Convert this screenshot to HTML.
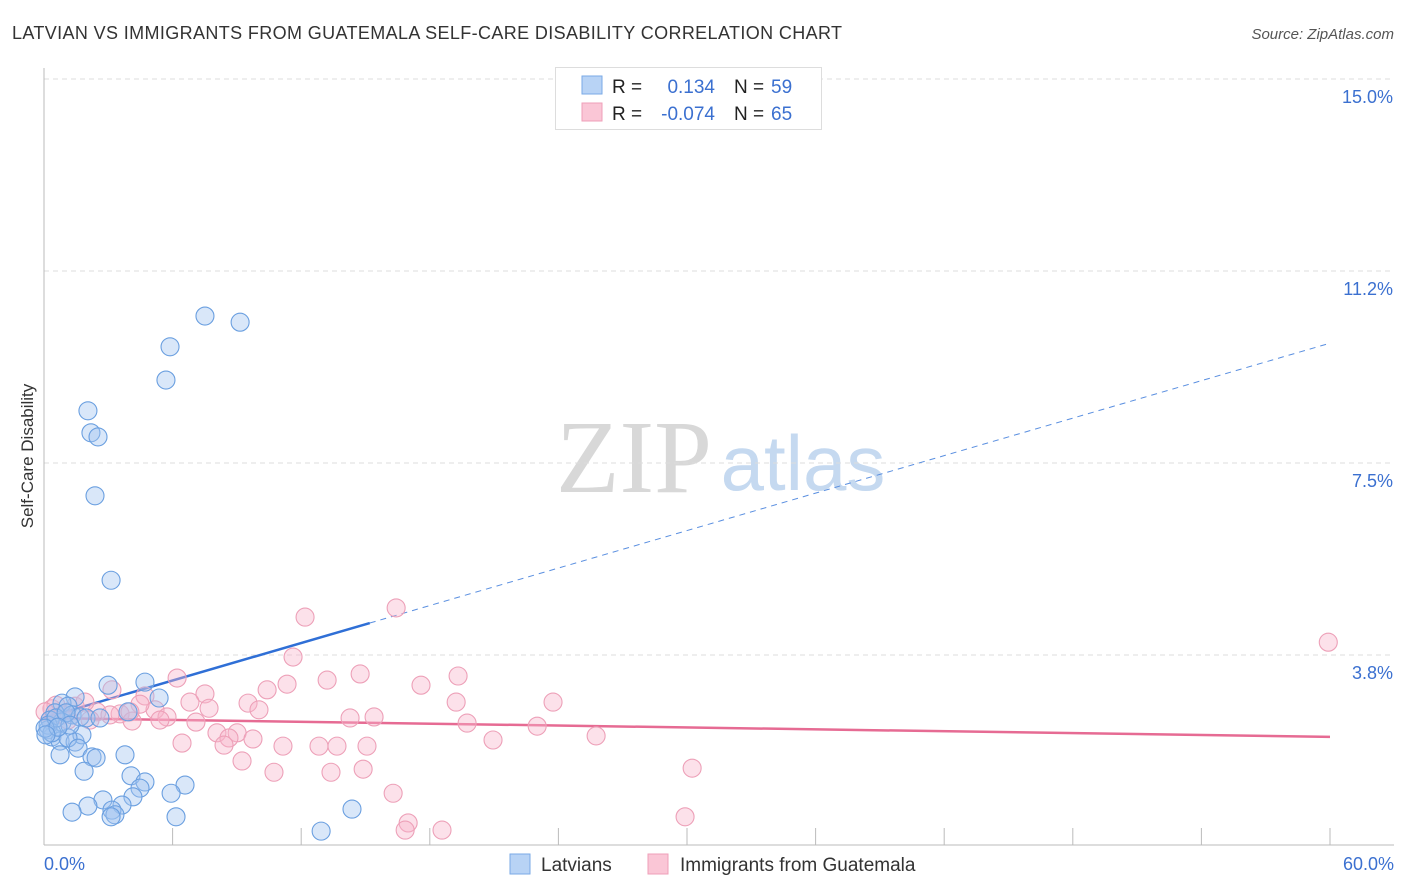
<!DOCTYPE html>
<html><head><meta charset="utf-8"><style>
body{margin:0;background:#fff;font-family:"Liberation Sans",sans-serif;}
#wrap{position:relative;width:1406px;height:892px;overflow:hidden;}
</style></head><body>
<div id="wrap">
<svg id="chart" width="1406" height="892" xmlns="http://www.w3.org/2000/svg">
<text x="12" y="39" font-size="18" fill="#333" textLength="830">LATVIAN VS IMMIGRANTS FROM GUATEMALA SELF-CARE DISABILITY CORRELATION CHART</text>
<text x="1394" y="39" font-size="15" fill="#555" font-style="italic" text-anchor="end">Source: ZipAtlas.com</text>
<text transform="translate(33,456) rotate(-90)" font-size="17" fill="#333" text-anchor="middle">Self-Care Disability</text>
<g>
<text x="634" y="492" font-size="104" font-family="Liberation Serif,serif" fill="#d8d8d8" text-anchor="middle">ZIP</text>
<text x="803" y="490" font-size="78" fill="#c5d9f0" text-anchor="middle">atlas</text>
</g>
<g id="grid"></g><g id="axes"></g><g id="trend"></g><g id="pts"></g>
<g>
<rect x="555.5" y="67.5" width="266" height="62" fill="#fff" stroke="#ddd"/>
<rect x="582" y="76" width="20" height="18" fill="#b8d3f5" stroke="#7aaae6"/>
<rect x="582" y="103" width="20" height="18" fill="#fac6d6" stroke="#ef9fb8"/>
<text x="612" y="93" font-size="19" fill="#222">R =</text>
<text x="715" y="93" font-size="19" fill="#3b70d0" text-anchor="end">0.134</text>
<text x="734" y="93" font-size="19" fill="#222">N =</text>
<text x="771" y="93" font-size="19" fill="#3b70d0">59</text>
<text x="612" y="120" font-size="19" fill="#222">R =</text>
<text x="715" y="120" font-size="19" fill="#3b70d0" text-anchor="end">-0.074</text>
<text x="734" y="120" font-size="19" fill="#222">N =</text>
<text x="771" y="120" font-size="19" fill="#3b70d0">65</text>
</g>
<g>
<rect x="510" y="854" width="20" height="20" fill="#b8d3f5" stroke="#7aaae6"/>
<text x="541" y="871" font-size="19" fill="#333">Latvians</text>
<rect x="648" y="854" width="20" height="20" fill="#fac6d6" stroke="#ef9fb8"/>
<text x="680" y="871" font-size="19" fill="#333">Immigrants from Guatemala</text>
</g>
</svg>
</div>
<script>
const yTicks=[3.75,7.5,11.25,15];
const yTickLabels=["3.8%","7.5%","11.2%","15.0%"];
const xTicks=[6,12,18,24,30,36,42,48,54,60];
const blueX=[7.51,9.15,5.88,5.69,2.05,2.19,2.52,2.38,3.13,2.99,4.71,5.37,1.45,0.84,1.12,0.51,1.31,1.68,0.84,1.96,0.28,0.19,0.37,0.75,1.45,1.77,1.12,1.59,0.75,2.24,2.43,3.78,1.87,4.06,4.71,4.48,6.58,5.93,4.15,2.75,3.64,2.05,1.31,3.17,3.31,3.13,6.16,14.37,12.93,0.19,0.37,0.56,1.03,0.05,1.21,0.65,2.61,3.92,0.09];
const blueY=[10.37,10.25,9.77,9.12,8.52,8.09,8.01,6.86,5.21,3.16,3.22,2.91,2.93,2.81,2.75,2.62,2.58,2.54,2.44,2.52,2.48,2.29,2.15,2.07,2.05,2.19,2.13,1.93,1.80,1.76,1.74,1.80,1.48,1.39,1.27,1.15,1.21,1.05,0.98,0.92,0.82,0.80,0.68,0.72,0.63,0.59,0.59,0.74,0.31,2.38,2.23,2.52,2.62,2.32,2.38,2.34,2.52,2.64,2.19];
const pinkX=[12.18,16.43,59.92,11.62,6.21,13.21,14.75,11.34,19.32,17.59,10.41,3.17,7.51,6.81,9.52,4.71,19.23,23.75,10.03,7.70,5.18,4.48,0.37,1.45,3.55,2.47,5.74,4.11,14.28,15.40,7.09,19.74,23.01,8.07,9.01,8.63,9.75,6.44,8.40,11.15,12.83,13.67,15.07,20.95,25.76,9.24,10.73,13.39,14.89,30.24,16.29,29.91,16.99,16.85,18.57,0.56,0.89,1.91,1.12,3.08,2.15,0.05,0.28,5.41,4.01];
const pinkY=[4.49,4.67,4.00,3.71,3.30,3.26,3.38,3.18,3.34,3.16,3.07,3.07,2.99,2.83,2.81,2.95,2.83,2.83,2.68,2.71,2.68,2.79,2.70,2.75,2.60,2.64,2.54,2.46,2.52,2.54,2.44,2.42,2.36,2.23,2.23,2.13,2.11,2.03,1.99,1.97,1.97,1.97,1.97,2.09,2.17,1.68,1.46,1.46,1.52,1.54,1.05,0.59,0.47,0.33,0.33,2.77,2.58,2.83,2.48,2.58,2.48,2.64,2.48,2.48,2.64];
const blueTrend=[2.52,9.84];
const pinkTrend=[2.52,2.15];
const blueSolidEnd=15.2;

const NS="http://www.w3.org/2000/svg";
const X=v=>44+v*(1286/60);
const Y=v=>847-v*51.2;
function mk(tag,attrs,parent){const e=document.createElementNS(NS,tag);for(const k in attrs)e.setAttribute(k,attrs[k]);document.getElementById(parent).appendChild(e);return e;}
yTicks.forEach((t,i)=>{
 const l=mk('line',{x1:44,x2:1394,y1:Y(t),y2:Y(t),stroke:'#ddd','stroke-dasharray':'5,4'},'grid');
 
 
 const tx=mk('text',{x:1393,y:Y(t)+24,'font-size':18,fill:'#3b70d0','text-anchor':'end'},'grid');
 tx.textContent=yTickLabels[i];
 
 
});
mk('line',{x1:44,x2:44,y1:68,y2:845,stroke:'#bbb'},'axes');
mk('line',{x1:44,x2:1394,y1:845,y2:845,stroke:'#bbb'},'axes');
xTicks.forEach(t=>{
 const l=mk('line',{x1:X(t),x2:X(t),y1:828,y2:845,stroke:'#bbb'},'axes');
 
 
});
const x0=mk('text',{x:44,y:870,'font-size':18,fill:'#3b70d0'},'axes');x0.textContent='0.0%';


const x1=mk('text',{x:1394,y:870,'font-size':18,fill:'#3b70d0','text-anchor':'end'},'axes');x1.textContent='60.0%';


function drawPts(xs,ys,fill,stroke,name){
 xs.forEach((x,i)=>{
  const c=mk('circle',{cx:X(x),cy:Y(ys[i]),r:9,fill:fill,stroke:stroke,'stroke-width':1.1},'pts');
  
  
 });
}
drawPts(pinkX,pinkY,'rgba(248,180,202,0.4)','#eda0b8','guatemala-point');
drawPts(blueX,blueY,'rgba(160,196,240,0.4)','#6a9fe0','latvian-point');
const bAt=x=>blueTrend[0]+(blueTrend[1]-blueTrend[0])*x/60;
const pAt=x=>pinkTrend[0]+(pinkTrend[1]-pinkTrend[0])*x/60;
const bs=mk('line',{x1:X(0),y1:Y(bAt(0)),x2:X(blueSolidEnd),y2:Y(bAt(blueSolidEnd)),stroke:'#2f6fd6','stroke-width':2.5},'trend');


const bd=mk('line',{x1:X(blueSolidEnd),y1:Y(bAt(blueSolidEnd)),x2:X(60),y2:Y(bAt(60)),stroke:'#5a8fe0','stroke-width':1,'stroke-dasharray':'6,5'},'trend');


const pl=mk('line',{x1:X(0),y1:Y(pAt(0)),x2:X(60),y2:Y(pAt(60)),stroke:'#e66b93','stroke-width':2.5},'trend');


</script>
</body></html>
